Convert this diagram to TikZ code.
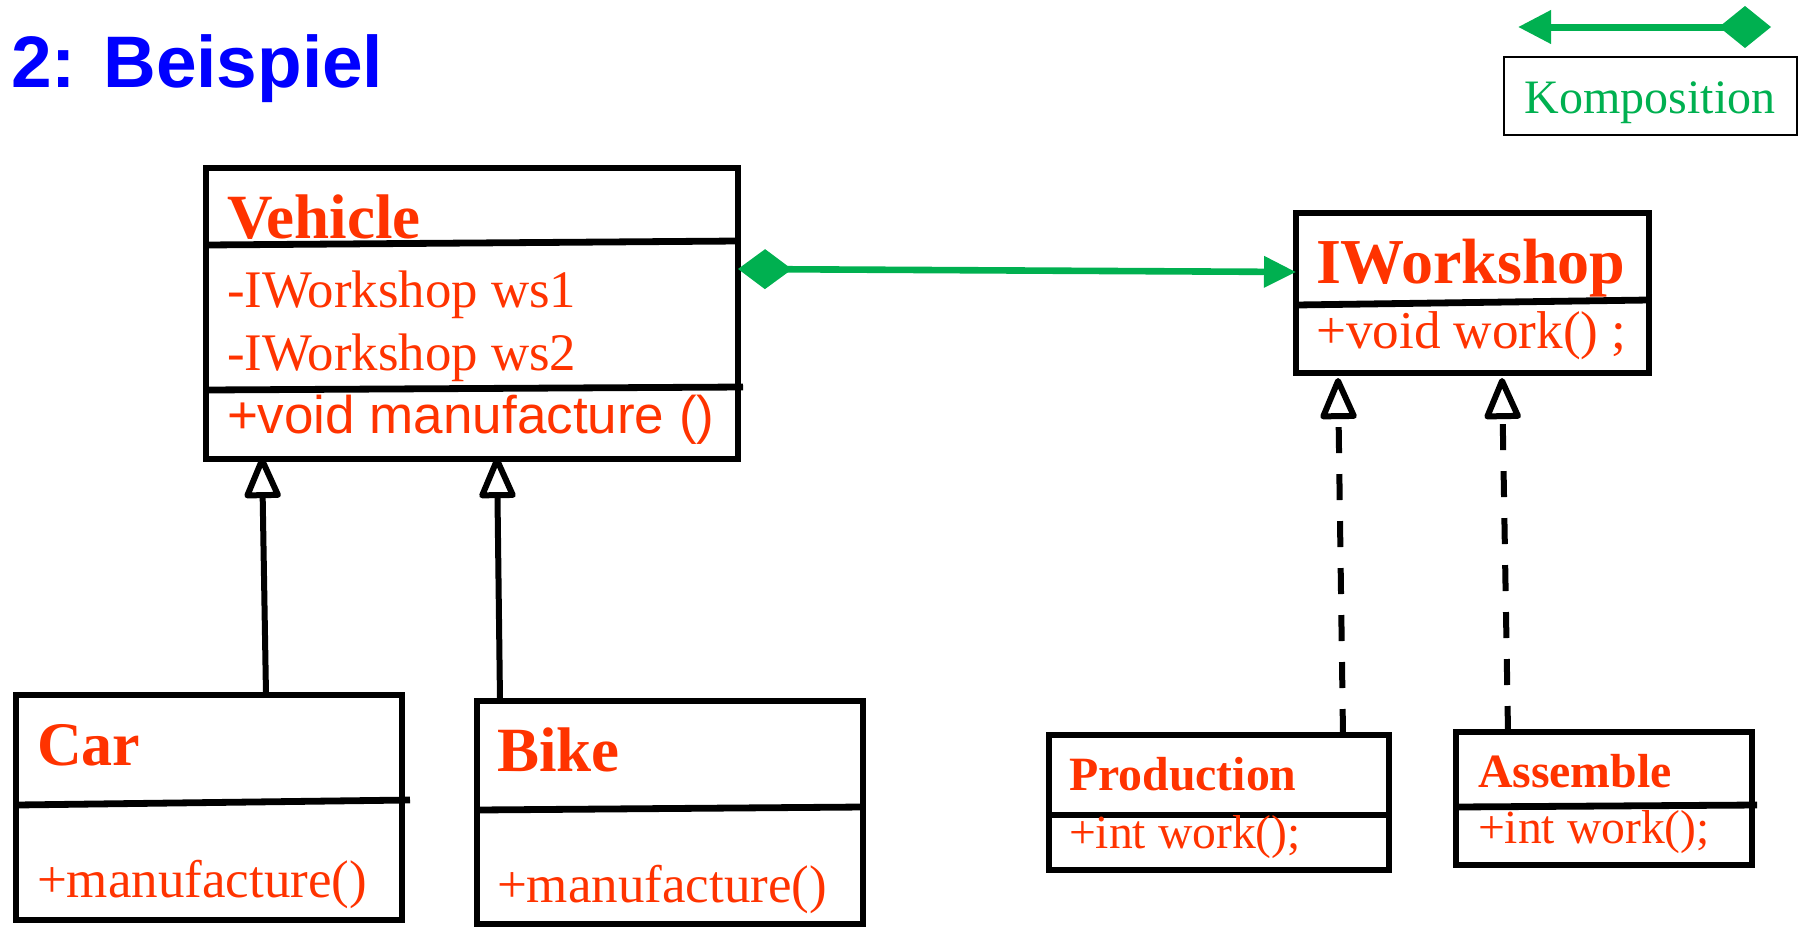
\documentclass[tikz,border=0pt]{standalone}
\usepackage{fontspec}
\setmainfont{Liberation Serif}
\setsansfont{Liberation Sans}
\usetikzlibrary{arrows.meta,calc}
\definecolor{umlred}{HTML}{FF3300}
\definecolor{umlgreen}{HTML}{00B050}
\definecolor{titleblue}{HTML}{0000FF}
\newcommand{\fsz}[1]{\fontsize{#1}{#1}\selectfont}
\begin{document}
\begin{tikzpicture}[x=0.5pt,y=-0.5pt,
  umlbox/.style={draw, line width=2.7pt, anchor=north west, inner sep=0pt, outer sep=0pt},
  divider/.style={line width=3.4pt},
  txt/.style={anchor=base west, inner sep=0pt, outer sep=0pt, text=umlred},
  hollowtip/.style={-{Triangle[open, length=23pt, width=19pt, round]}},
  generalize/.style={line width=3pt, hollowtip},
  realize/.style={line width=3pt, dash pattern=on 13pt off 10.5pt, hollowtip},
  compose/.style={umlgreen, line width=3.3pt,
    {Diamond[length=27pt, width=20pt]}-{Triangle[length=16pt, width=15pt]}}]
\useasboundingbox (0,0) rectangle (1798,927);

% title
\node[anchor=base west, inner sep=0pt, text=titleblue] (title) at (11,87)
  {\sffamily\bfseries\fsz{36.5pt}2: Beispiel};

% legend
\coordinate (legL) at (1518,27);
\coordinate (legR) at (1771,27);
\draw[umlgreen, line width=3.5pt,
  {Triangle[length=16.5pt, width=16pt]}-{Diamond[length=26pt, width=21pt]}] (legL) -- (legR);
\node[draw, line width=1pt, anchor=north west, inner sep=0pt, outer sep=0pt,
  minimum width=146.5pt, minimum height=39pt] (legend) at (1504,57) {};
\node[anchor=base, inner sep=0pt, text=umlgreen] (legtxt) at (1650,113) {\fsz{24pt}Komposition};

% class boxes
\node[umlbox, minimum width=266pt, minimum height=145.5pt] (veh) at (206,168) {};
\node[umlbox, minimum width=176.5pt, minimum height=80pt] (iws) at (1296,213) {};
\node[umlbox, minimum width=193pt, minimum height=112.5pt] (car) at (16,695) {};
\node[umlbox, minimum width=193pt, minimum height=111.5pt] (bike) at (477,701) {};
\node[umlbox, minimum width=170pt, minimum height=67.5pt] (prod) at (1049,735) {};
\node[umlbox, minimum width=148pt, minimum height=66.5pt] (asm) at (1456,732) {};

% compartment lines
\draw[divider] ($(veh.north west)+(0,77)$) -- ($(veh.north east)+(0,73)$);
\draw[divider] ($(veh.north west)+(0,222)$) -- ($(veh.north east)+(5,219)$);
\draw[divider] ($(iws.north west)+(0,92)$) -- ($(iws.north east)+(0,87)$);
\draw[divider] ($(car.north west)+(0,110)$) -- ($(car.north east)+(8,105)$);
\draw[divider] ($(bike.north west)+(0,109)$) -- ($(bike.north east)+(0,106)$);
\draw[divider] ($(prod.north west)+(0,80)$) -- ($(prod.north east)+(3,80)$);
\draw[divider] ($(asm.north west)+(0,75)$) -- ($(asm.north east)+(5,73)$);

% Vehicle
\node[txt] (vehname) at (227,238) {\bfseries\fsz{31.5pt}Vehicle};
\node[txt] (vehws1) at (227,307) {\fsz{26.4pt}-IWorkshop ws1};
\node[txt] (vehws2) at (227,370) {\fsz{26.4pt}-IWorkshop ws2};
\node[txt] (vehop) at (227,433) {\sffamily\fsz{26.5pt}+void manufacture ()};

% IWorkshop
\node[txt] (iwsname) at (1316,283) {\bfseries\fsz{32pt}IWorkshop};
\node[txt] (iwsop) at (1316,348) {\fsz{26.6pt}+void work() ;};

% Car and Bike
\node[txt] (carname) at (37,765) {\bfseries\fsz{31pt}Car};
\node[txt] (carop) at (37,897) {\fsz{26.5pt}+manufacture()};
\node[txt] (bikename) at (497,771) {\bfseries\fsz{31.5pt}Bike};
\node[txt] (bikeop) at (497,902) {\fsz{26.5pt}+manufacture()};

% Production and Assemble
\node[txt] (prodname) at (1069,790) {\bfseries\fsz{23.9pt}Production};
\node[txt] (prodop) at (1069,848) {\fsz{23.8pt}+int work();};
\node[txt] (asmname) at (1478,787) {\bfseries\fsz{23.9pt}Assemble};
\node[txt] (asmop) at (1478,843) {\fsz{23.8pt}+int work();};

% composition Vehicle -> IWorkshop
\draw[compose] ($(veh.north east)+(0,101)$) -- ($(iws.north west)+(0,59)$);

% inheritance
\draw[generalize] ($(car.north west)+(250,0)$) -- ($(veh.south west)+(56,-2)$);
\draw[generalize] ($(bike.north west)+(23,0)$) -- ($(veh.south west)+(291,-2)$);

% interface realization
\draw[realize] ($(prod.north west)+(294,0)$) -- ($(iws.south west)+(42,5)$);
\draw[realize] ($(asm.north west)+(52,0)$) -- ($(iws.south west)+(206,5)$);
\end{tikzpicture}
\end{document}
